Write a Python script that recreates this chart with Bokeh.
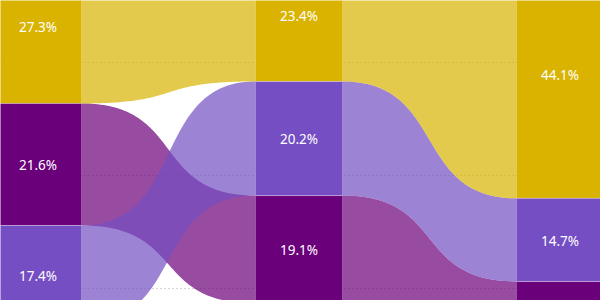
import numpy as np
from bokeh.plotting import figure
from bokeh.models import Range1d, FixedTicker, ColumnDataSource
from bokeh.core.properties import value
from bokeh.embed import file_html
from bokeh.resources import INLINE

# ---- data ----
columns = ["Period 1", "Period 2", "Period 3"]
series_names = ["Gold", "Plum", "Violet"]
gold = [27.3, 23.4, 44.1]
plum = [21.6, 19.1, 12.0]
violet = [17.4, 20.2, 14.7]
series_colors = ["#D9B300", "#6B007B", "#744EC2"]
grid_ticks = [0, 20, 40, 60, 80, 100]

series_values = [gold, plum, violet]

# ---- layout ----
HW = 1.0 / 6.0          # half bar width in category units
K = 0.6                 # bezier control factor
RIBBON_ALPHA = 0.7
Y_BOTTOM, Y_TOP = 62.18, 9.07

p = figure(width=600, height=300, output_backend="svg", toolbar_location=None,
           x_range=Range1d(-0.1437, 2.1552), y_range=Range1d(Y_BOTTOM, Y_TOP),
           min_border=0, outline_line_color=None,
           background_fill_color="white", border_fill_color="white")
p.axis.visible = False
p.xgrid.visible = False
p.ygrid.ticker = FixedTicker(ticks=grid_ticks)
p.ygrid.grid_line_color = "#a8a8a8"
p.ygrid.grid_line_dash = "1 3"
p.ygrid.grid_line_width = 1

# stacking by rank in each column
n_cols = len(columns)
stacks = {}  # (series, col) -> (top, bottom)
for c in range(n_cols):
    order = sorted(range(len(series_values)), key=lambda s: -series_values[s][c])
    cum = 0.0
    for s in order:
        v = series_values[s][c]
        stacks[(s, c)] = (cum, cum + v)
        cum += v

t = np.linspace(0, 1, 90)

def bez_x(x0, x1):
    dx = x1 - x0
    return ((1 - t) ** 3 * x0 + 3 * (1 - t) ** 2 * t * (x0 + K * dx)
            + 3 * (1 - t) * t ** 2 * (x1 - K * dx) + t ** 3 * x1)

def bez_y(y0, y1):
    return y0 + (y1 - y0) * (3 * (1 - t) * t ** 2 + t ** 3)

# ribbons (plum first, violet on top, gold)
for s in [1, 2, 0]:
    xs, ys = [], []
    for c in range(n_cols - 1):
        x0, x1 = c + HW, c + 1 - HW
        t0, b0 = stacks[(s, c)]
        t1, b1 = stacks[(s, c + 1)]
        bx = bez_x(x0, x1)
        top = bez_y(t0, t1)
        bot = bez_y(b0, b1)
        xs.append(list(bx) + list(bx[::-1]))
        ys.append(list(top) + list(bot[::-1]))
    p.patches(xs, ys, fill_color=series_colors[s], fill_alpha=RIBBON_ALPHA,
              line_color=None)

# bars
bl, br, bt, bb, bc, lx, ly, lt = [], [], [], [], [], [], [], []
for s in range(len(series_values)):
    for c in range(n_cols):
        top, bot = stacks[(s, c)]
        bl.append(c - HW); br.append(c + HW)
        bt.append(top); bb.append(bot)
        bc.append(series_colors[s])
        mid = (top + bot) / 2
        if Y_TOP < mid < Y_BOTTOM - 1.5:
            lx.append(c); ly.append(mid)
            lt.append(f"{series_values[s][c]:.1f}%")

p.quad(source=ColumnDataSource(dict(left=bl, right=br, top=bt, bottom=bb, color=bc)),
       left="left", right="right", top="top", bottom="bottom",
       fill_color="color", line_color=None)

# thin light separators between stacked segments
sep_x0, sep_x1, sep_y = [], [], []
for c in range(n_cols):
    for s in range(len(series_values)):
        top, bot = stacks[(s, c)]
        if top > 0:
            sep_x0.append(c - HW); sep_x1.append(c + HW); sep_y.append(top)
p.segment(x0=sep_x0, x1=sep_x1, y0=sep_y, y1=sep_y, line_color="white",
          line_alpha=0.35, line_width=1)

p.text(source=ColumnDataSource(dict(x=lx, y=ly, text=lt)), x="x", y="y", text="text",
       text_font=value("Noto Sans"), text_font_size="13.5px", text_color="#FFFFFF",
       text_align="center", text_baseline="middle", y_offset=1)

open("out.html", "w").write(file_html(p, INLINE))
